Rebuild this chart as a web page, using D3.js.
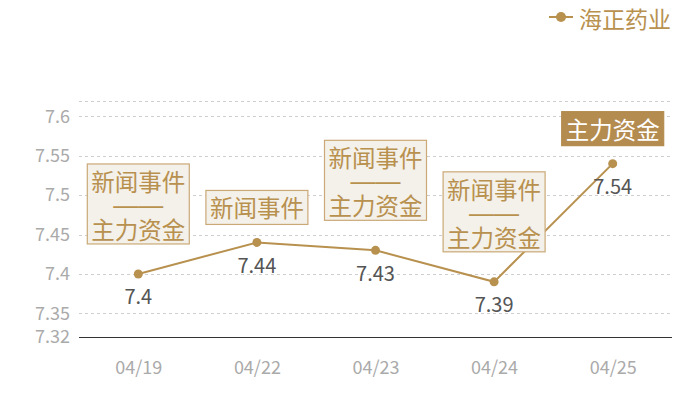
<!DOCTYPE html>
<html>
<head>
<meta charset="utf-8">
<script src="https://cdn.jsdelivr.net/npm/d3@7/dist/d3.min.js"></script>
<style>
  body { margin: 0; background: #fff; }
  svg { display: block; font-family: "Noto Sans CJK SC", "Noto Sans", sans-serif; }
</style>
</head>
<body>
<div class="chart"></div>
<script>
const dates = ['04/19', '04/22', '04/23', '04/24', '04/25'];
const prices = [7.4, 7.44, 7.43, 7.39, 7.54];
const tags = [
    ['新闻事件', '——', '主力资金'],
    ['新闻事件'],
    ['新闻事件', '——', '主力资金'],
    ['新闻事件', '——', '主力资金'],
    ['主力资金']
];
const filledTag = [false, false, false, false, true];
const yTicks = [7.32, 7.35, 7.4, 7.45, 7.5, 7.55, 7.6];
const yGrid = [7.35, 7.4, 7.45, 7.5, 7.55, 7.6, 7.62];
const seriesName = '海正药业';

const gold = '#b8914f';
const dim = { w: 700, h: 400, left: 79, right: 672, top: 100.6, bottom: 337 };

const svg = d3.select('.chart')
    .append('svg')
    .attr('width', dim.w)
    .attr('height', dim.h);

const xScale = d3.scalePoint()
    .domain(dates)
    .range([dim.left, dim.right])
    .padding(0.5);

const yScale = d3.scaleLinear()
    .domain([7.32, 7.62])
    .range([dim.bottom, dim.top]);

// grid
svg.append('g')
    .selectAll('line')
    .data(yGrid)
    .enter()
    .append('line')
    .attr('x1', dim.left)
    .attr('x2', dim.right)
    .attr('y1', d => Math.round(yScale(d)) + 0.5)
    .attr('y2', d => Math.round(yScale(d)) + 0.5)
    .attr('stroke', '#cfcfcf')
    .attr('stroke-dasharray', '3,3');

// y axis labels
const yAxis = d3.axisLeft(yScale).tickValues(yTicks).tickFormat(d3.format('')).tickSize(0).tickPadding(9);
svg.append('g')
    .attr('transform', `translate(${dim.left},0)`)
    .call(yAxis)
    .call(g => g.select('.domain').remove())
    .selectAll('text')
    .attr('fill', '#aaa')
    .style('font-size', '18px')
    .style('font-family', '"Noto Sans CJK SC", sans-serif');

// x axis
const xAxis = d3.axisBottom(xScale).tickSize(0).tickPadding(24);
svg.append('g')
    .attr('transform', `translate(0,${dim.bottom + 0.5})`)
    .call(xAxis)
    .call(g => g.select('.domain').attr('stroke', '#333').attr('d', `M${dim.left},0H${dim.right}`))
    .selectAll('text')
    .attr('fill', '#aaa')
    .style('font-size', '18px')
    .style('font-family', '"Noto Sans CJK SC", sans-serif');

// line
const line = d3.line()
    .x((d, i) => xScale(dates[i]))
    .y(d => yScale(d));

svg.append('path')
    .datum(prices)
    .attr('d', line)
    .attr('fill', 'none')
    .attr('stroke', gold)
    .attr('stroke-width', 2);

svg.selectAll('circle.pt')
    .data(prices)
    .enter()
    .append('circle')
    .attr('class', 'pt')
    .attr('cx', (d, i) => xScale(dates[i]))
    .attr('cy', d => yScale(d))
    .attr('r', 4.5)
    .attr('fill', gold);

// value labels
svg.selectAll('text.val')
    .data(prices)
    .enter()
    .append('text')
    .attr('class', 'val')
    .attr('x', (d, i) => xScale(dates[i]))
    .attr('y', d => yScale(d) + 22)
    .attr('text-anchor', 'middle')
    .attr('dominant-baseline', 'central')
    .attr('fill', '#555')
    .style('font-size', '20px')
    .text(d => d);

// tag boxes
const lineH = 24, pad = 5, boxW = 102;
tags.forEach((lines, i) => {
    const cx = xScale(dates[i]);
    const py = yScale(prices[i]);
    const boxH = lines.length * lineH + pad * 2 - (lines.length > 1 ? 2 : 0);
    const gap = 12 + 6 * lines.length;
    const top = py - gap - boxH;
    const g = svg.append('g');
    g.append('rect')
        .attr('x', cx - boxW / 2)
        .attr('y', top)
        .attr('width', boxW)
        .attr('height', boxH)
        .attr('fill', filledTag[i] ? '#b48c50' : '#f4f0ea')
        .attr('stroke', filledTag[i] ? '#b48c50' : '#caa977')
        .attr('stroke-width', 1.2);
    g.selectAll('text')
        .data(lines)
        .enter()
        .append('text')
        .attr('x', cx)
        .attr('y', (d, j) => top + pad + lineH * j + lineH / 2)
        .attr('text-anchor', 'middle')
        .attr('dominant-baseline', 'central')
        .attr('fill', filledTag[i] ? '#fff' : gold)
        .style('font-family', d => /^—+$/.test(d) ? '"Liberation Sans", sans-serif' : null)
        .style('font-size', d => /^—+$/.test(d) ? '25px' : '23.5px')
        .text(d => d);
});

// legend
const legend = svg.append('g');
legend.append('line')
    .attr('x1', 549).attr('x2', 573)
    .attr('y1', 17).attr('y2', 17)
    .attr('stroke', gold)
    .attr('stroke-width', 2);
legend.append('circle')
    .attr('cx', 561).attr('cy', 17)
    .attr('r', 5)
    .attr('fill', gold);
legend.append('text')
    .attr('x', 579)
    .attr('y', 18)
    .attr('dominant-baseline', 'central')
    .attr('fill', gold)
    .style('font-size', '23px')
    .text(seriesName);
</script>
</body>
</html>
